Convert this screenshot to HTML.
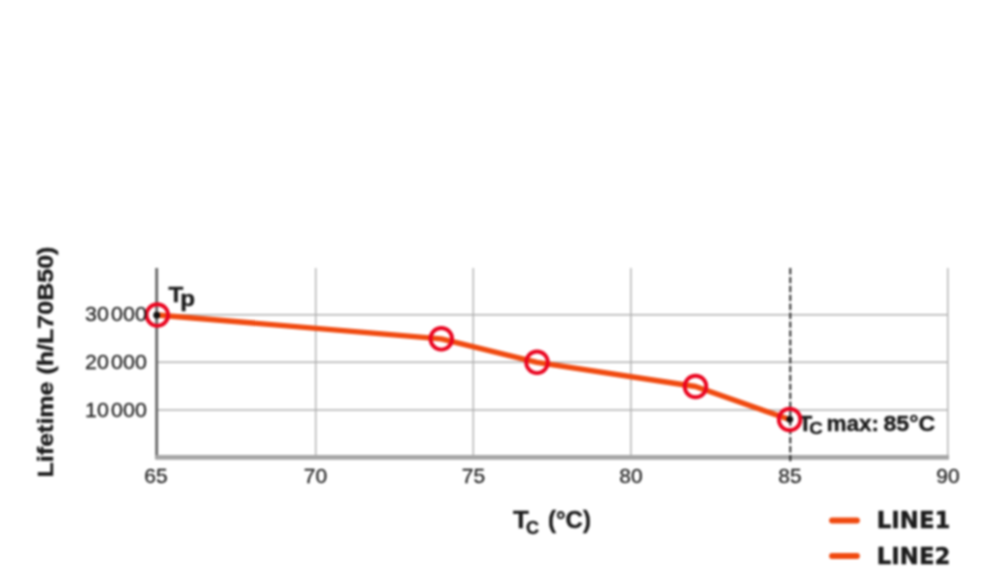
<!DOCTYPE html>
<html><head><meta charset="utf-8">
<style>
html,body{margin:0;padding:0;background:#fff;}
body{width:1000px;height:584px;overflow:hidden;}
svg{display:block;filter:blur(0.95px);}
text{font-family:"Liberation Sans",sans-serif;fill:#1e1e1e;stroke:#1e1e1e;stroke-width:0.25;}
.b{font-weight:bold;fill:#1c1c1c;stroke:#1c1c1c;stroke-width:0.4;}
.lg{font-family:"DejaVu Sans Condensed","DejaVu Sans","Liberation Sans",sans-serif;font-weight:bold;fill:#1c1c1c;stroke:#1c1c1c;stroke-width:0.4;}
</style></head><body>
<svg width="1000" height="584" viewBox="0 0 1000 584">
<rect width="1000" height="584" fill="#fff"/>
<!-- grid -->
<g stroke="#b0b0b0" stroke-width="1.4" fill="none">
<line x1="315.7" y1="268" x2="315.7" y2="457"/>
<line x1="473.3" y1="268" x2="473.3" y2="457"/>
<line x1="630.9" y1="268" x2="630.9" y2="457"/>
<line x1="947.8" y1="268" x2="947.8" y2="457"/>
<line x1="156" y1="314.8" x2="948" y2="314.8"/>
<line x1="156" y1="362.3" x2="948" y2="362.3"/>
<line x1="156" y1="410" x2="948" y2="410"/>
</g>
<!-- axes -->
<line x1="156.7" y1="268" x2="156.7" y2="459" stroke="#666" stroke-width="2.8"/>
<line x1="155.3" y1="457.3" x2="949" y2="457.3" stroke="#a6a6a6" stroke-width="4.8"/>
<!-- dashed -->
<line x1="790.3" y1="268" x2="790.3" y2="462" stroke="#222" stroke-width="1.9" stroke-dasharray="6.4 2.5"/>
<!-- data line -->
<polyline points="157,315 441.3,338.9 537,362.3 695.5,386.5 789.6,419.5" fill="none" stroke="#f04a10" stroke-width="5.4" stroke-linejoin="round" stroke-linecap="round"/>
<text class="b" font-size="22.5" x="798.4" y="430.9">T</text>
<g fill="none" stroke="#ea0520" stroke-width="3.9">
<circle cx="157.3" cy="315.1" r="10.8"/>
<circle cx="441.3" cy="338.8" r="10.8"/>
<circle cx="537" cy="362.3" r="10.8"/>
<circle cx="695.5" cy="386.5" r="10.8"/>
<circle cx="789.6" cy="419.5" r="10.8"/>
</g>
<circle cx="156.7" cy="315.2" r="3.4" fill="#111"/>
<circle cx="789.8" cy="419.3" r="3.4" fill="#111"/>
<!-- y ticks -->
<g font-size="20.6" text-anchor="end">
<text transform="translate(146.8,321.4) scale(1.04,1)">30<tspan dx="2.2">000</tspan></text>
<text transform="translate(146.8,368.8) scale(1.04,1)">20<tspan dx="2.2">000</tspan></text>
<text transform="translate(146.8,416.6) scale(1.04,1)">10<tspan dx="2.2">000</tspan></text>
</g>
<g font-size="20" text-anchor="middle">
<text transform="translate(156,482.8) scale(1.05,1)">65</text>
<text transform="translate(315.5,482.8) scale(1.05,1)">70</text>
<text transform="translate(473.5,482.8) scale(1.05,1)">75</text>
<text transform="translate(631,482.8) scale(1.05,1)">80</text>
<text transform="translate(790,482.8) scale(1.05,1)">85</text>
<text transform="translate(948,482.8) scale(1.05,1)">90</text>
</g>
<text class="b" font-size="22.6" text-anchor="middle" transform="translate(53.4,362) rotate(-90) scale(1.108,1)">Lifetime (h/L70B50)</text>
<text class="b" font-size="23.2" transform="translate(513,528.2) scale(1.11,1)">T</text>
<text class="b" font-size="18" x="526" y="533.5">C</text>
<text class="b" font-size="23.2" transform="translate(548,528.2) scale(1.035,1)">(°C)</text>
<text class="b" font-size="22" transform="translate(168.6,301.9) scale(1.1,1)">T</text>
<text class="b" font-size="22" transform="translate(180.2,306) scale(1.1,1)">p</text>
<text class="b" font-size="17" transform="translate(809.2,434.4) scale(1.1,1)">C</text>
<text class="b" font-size="22.5" x="826.5" y="430.9">max:</text>
<text class="b" font-size="22.5" transform="translate(883.4,430.9) scale(1.03,1)">85°C</text>
<line x1="832" y1="520.5" x2="857" y2="520.5" stroke="#f04a10" stroke-width="5.8" stroke-linecap="round"/>
<line x1="832" y1="556" x2="857" y2="556" stroke="#f04a10" stroke-width="5.8" stroke-linecap="round"/>
<text class="lg" font-size="23.4" transform="translate(876.8,528) scale(1.085,1)">LINE1</text>
<text class="lg" font-size="23.4" transform="translate(876.8,564) scale(1.085,1)">LINE2</text>
</svg>
</body></html>
